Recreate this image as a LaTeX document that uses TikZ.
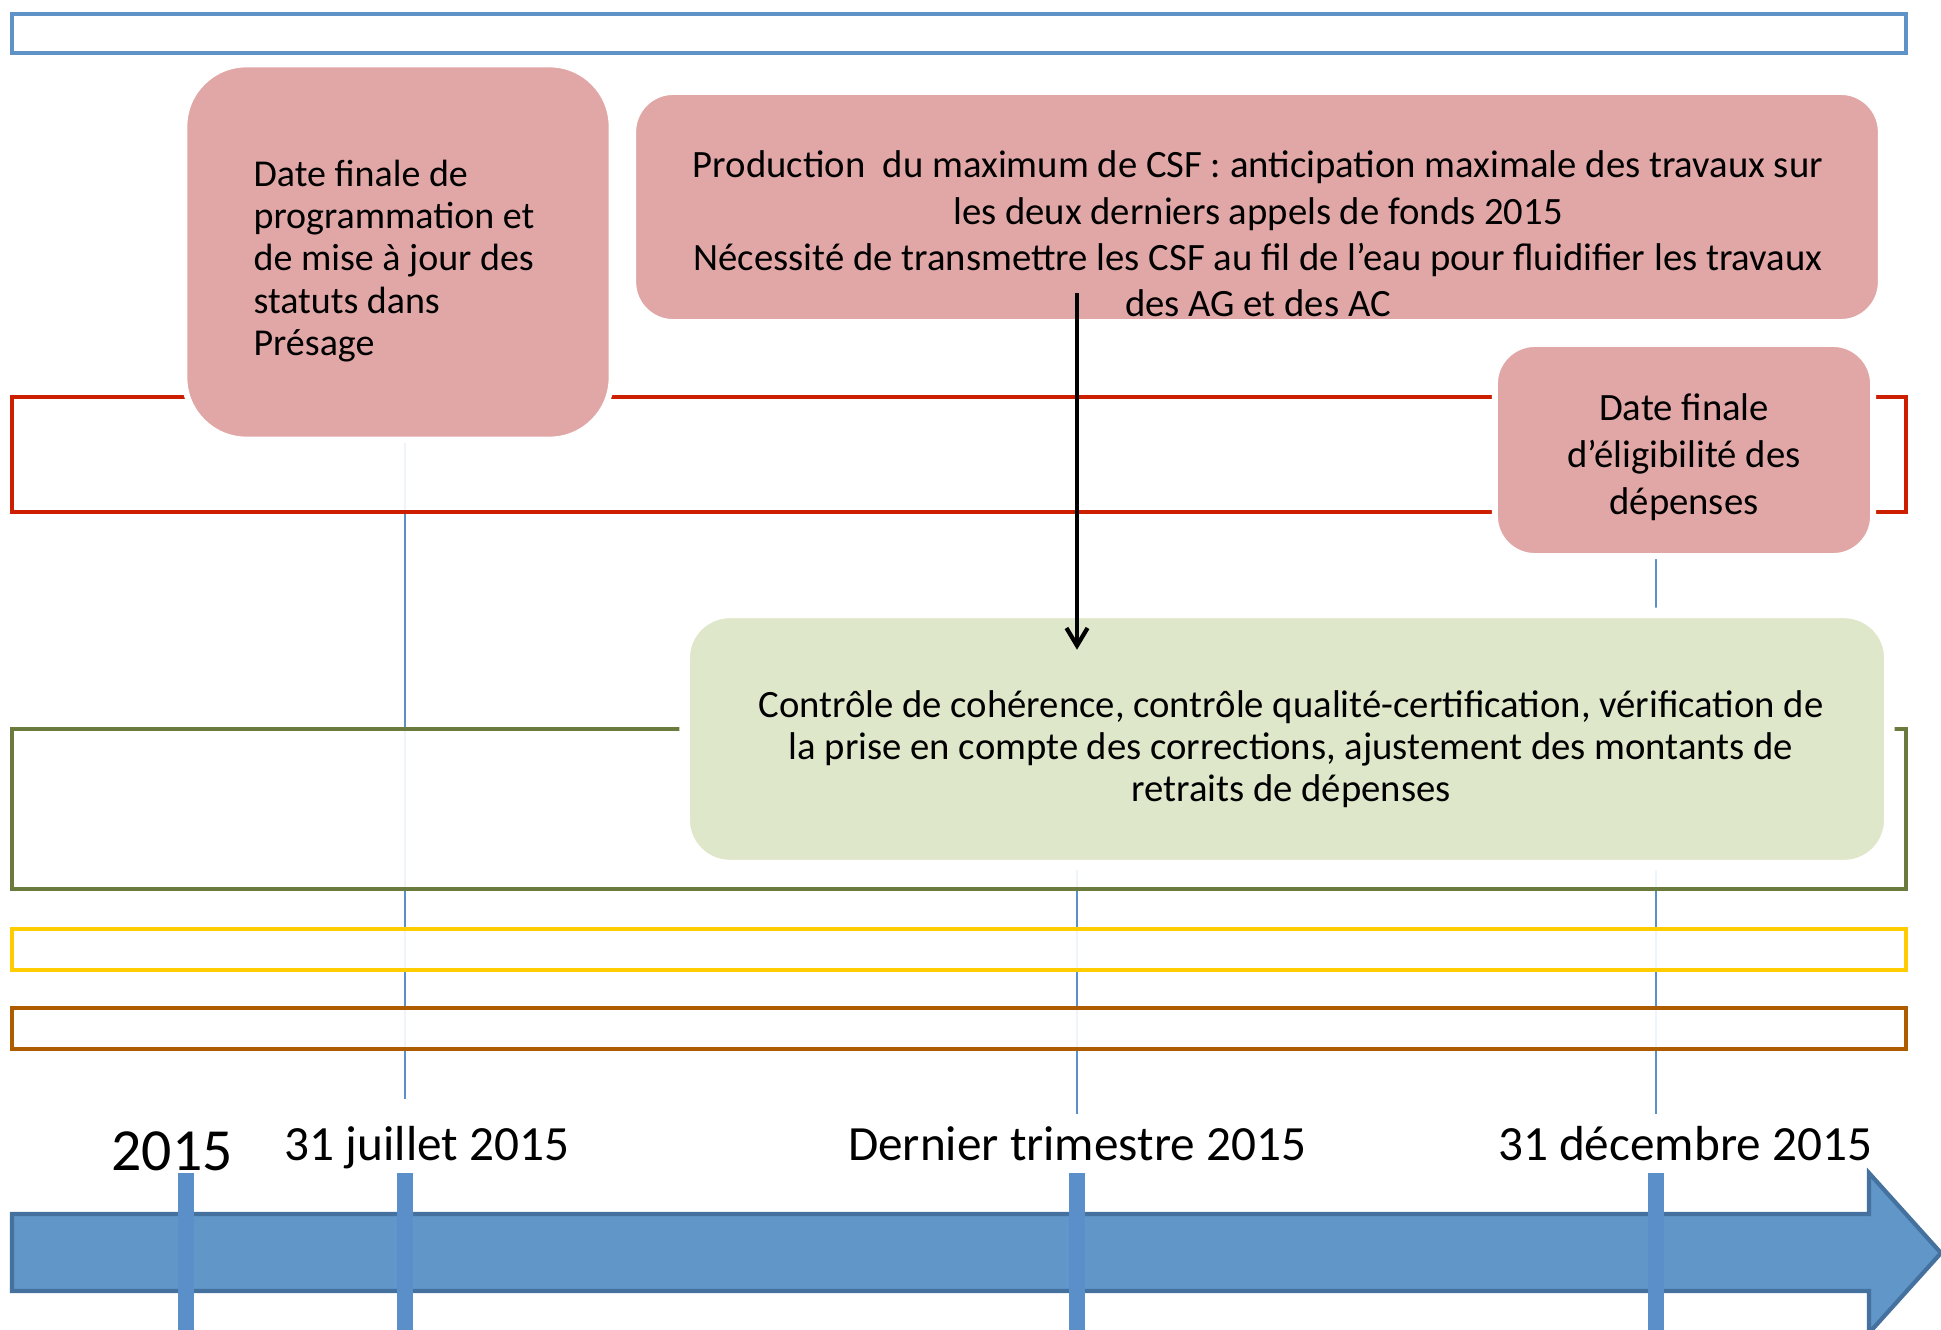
\documentclass[tikz,border=0pt]{standalone}
\usepackage{fontspec}
\setmainfont{Carlito}
\usetikzlibrary{arrows.meta,positioning,backgrounds}

\definecolor{bandblue}{HTML}{5F93C7}
\definecolor{bandred}{HTML}{CC1F00}
\definecolor{bandgreen}{HTML}{6B7B3D}
\definecolor{bandyellow}{HTML}{FFCC00}
\definecolor{bandbrown}{HTML}{AE5C00}
\definecolor{pinkfill}{HTML}{E1A7A6}
\definecolor{greenfill}{HTML}{DFE7CA}
\definecolor{axisfill}{HTML}{6196C9}
\definecolor{axisdraw}{HTML}{45719E}
\definecolor{tickblue}{HTML}{5A8FCA}

\tikzset{
  band/.style={line width=1.3pt, fill=white, fill opacity=0.9},
  pinkbox/.style={fill=pinkfill, draw=white, line width=1.7pt, inner sep=0pt},
  greenbox/.style={fill=greenfill, draw=white, line width=3pt, inner sep=0pt},
  boxtext/.style={align=center, inner sep=0pt},
  vline/.style={draw=tickblue, line width=0.7pt},
  tick/.style={draw=tickblue, line width=4.3pt},
  datelbl/.style={anchor=base, inner sep=0pt, font=\fontsize{14}{16}\selectfont},
  flow/.style={-{Straight Barb[length=5pt,width=6pt]}, line width=1.2pt}
}

\begin{document}
\begin{tikzpicture}[x=0.01cm, y=-0.01cm]
  \useasboundingbox (0,0) rectangle (1941,1330);

  % boxes
  \node[pinkbox, rounded corners=0.62cm, minimum width=4.27cm, minimum height=3.75cm] (prog) at (398,252) {};
  \node[pinkbox, rounded corners=0.4cm, minimum width=12.47cm, minimum height=2.30cm] (prod) at (1257,207) {};
  \node[pinkbox, rounded corners=0.4cm, minimum width=3.78cm, minimum height=2.12cm] (elig) at (1684,450) {};
  \node[greenbox, rounded corners=0.45cm, minimum width=12.04cm, minimum height=2.52cm] (ctrl) at (1287,739) {};

  % box texts
  \node[boxtext, align=left, font=\fontsize{10.8}{12}\selectfont] (progtxt) at ([xshift=-0.04cm,yshift=-0.09cm]prog.center)
    {Date finale de\\programmation et\\de mise à jour des\\statuts dans\\Présage};
  \node[boxtext, font=\fontsize{11}{13.2}\selectfont] (prodtxt) at (1258,234)
    {Production\ \ du maximum de CSF : anticipation maximale des travaux sur\\
     les deux derniers appels de fonds 2015\\
     Nécessité de transmettre les CSF au fil de l’eau pour fluidifier les travaux\\
     des AG et des AC};
  \node[boxtext, font=\fontsize{11}{13.3}\selectfont] (eligtxt) at ([yshift=-0.07cm]elig.center)
    {Date finale\\d’éligibilité des\\dépenses};
  \node[boxtext, font=\fontsize{11}{12}\selectfont] (ctrltxt) at (1291,749)
    {Contrôle de cohérence, contrôle qualité-certification, vérification de\\
     la prise en compte des corrections, ajustement des montants de\\
     retraits de dépenses};

  % date markers
  \coordinate (e2) at (405,1099);
  \coordinate (e3) at (1077,1114);
  \coordinate (e4) at (1656,1114);

  \begin{scope}[on background layer]
    % thin date lines
    \draw[vline] (prog.south -| e2) -- (e2);
    \draw[vline] (ctrl.south -| e3) -- (e3);
    \draw[vline] (elig.south -| e4) -- (e4);
    % bands
    \draw[band, draw=bandblue] (12,14) rectangle (1906,53);
    \draw[band, draw=bandred] (12,397) rectangle (1906,512);
    \draw[band, draw=bandgreen] (12,729) rectangle (1906,889);
    \draw[band, draw=bandyellow] (12,929) rectangle (1906,970);
    \draw[band, draw=bandbrown] (12,1008) rectangle (1906,1049);
  \end{scope}

  % arrow
  \draw[flow] ([yshift=0.32cm]prod.south -| e3) -- ([yshift=-0.42cm]ctrl.north -| e3);

  % timeline
  \draw[fill=axisfill, draw=axisdraw, line width=1.2pt]
    (12,1214) -- (1869,1214) -- (1869,1173) -- (1941,1253) -- (1869,1333)
    -- (1869,1291) -- (12,1291) -- cycle;
  \coordinate (t1) at (186,1173);
  \coordinate (t2) at (405,1173);
  \coordinate (t3) at (1077,1173);
  \coordinate (t4) at (1656,1173);
  \draw[tick] (t1) -- ++(0,170);
  \draw[tick] (t2) -- ++(0,170);
  \draw[tick] (t3) -- ++(0,170);
  \draw[tick] (t4) -- ++(0,170);

  % dates
  \node[datelbl, font=\fontsize{17}{20}\selectfont] (y0) at (172,1170) {2015};
  \node[datelbl] (d1) at (427,1160) {31 juillet 2015};
  \node[datelbl] (d2) at (1077,1160) {Dernier trimestre 2015};
  \node[datelbl] (d3) at (1685,1160) {31 décembre 2015};
\end{tikzpicture}
\end{document}
